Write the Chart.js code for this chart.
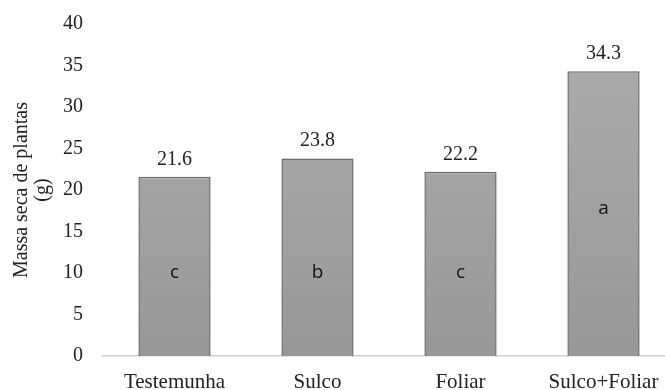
<!DOCTYPE html>
<html><head><meta charset="utf-8">
<script src="https://cdn.jsdelivr.net/npm/chart.js@4"></script>
<style>html,body{margin:0;padding:0;background:#fff;overflow:hidden;width:665px;height:390px}</style>
</head><body>
<canvas id="c" width="675" height="390" style="width:675px;height:390px"></canvas>
<script>
const categories = ["Testemunha", "Sulco", "Foliar", "Sulco+Foliar"];
const values = [21.6, 23.8, 22.2, 34.3];
const letters = ["c", "b", "c", "a"];
const letterLevel = [10, 10, 10, 17.7];
const yTicks = [0, 5, 10, 15, 20, 25, 30, 35, 40];

const labelPlugin = {
  id: "labels",
  afterDatasetsDraw(chart) {
    const ctx = chart.ctx;
    const meta = chart.getDatasetMeta(0);
    const y = chart.scales.y;
    ctx.save();
    ctx.textAlign = "center";
    meta.data.forEach((bar, i) => {
      ctx.fillStyle = "#222";
      ctx.font = "20px 'Liberation Serif'";
      ctx.textBaseline = "alphabetic";
      ctx.fillText(values[i].toFixed(1), bar.x, bar.y - 12);
      ctx.font = "19px 'Open Sans'";
      ctx.textBaseline = "middle";
      ctx.fillStyle = "#111";
      ctx.fillText(letters[i], bar.x, y.getPixelForValue(letterLevel[i]));
    });
    ctx.restore();
  }
};

new Chart(document.getElementById("c"), {
  type: "bar",
  data: {
    labels: categories,
    datasets: [{
      data: values,
      backgroundColor: (c) => {
        const a = c.chart.chartArea;
        if (!a) return "#a0a0a0";
        const g = c.chart.ctx.createLinearGradient(0, a.top, 0, a.bottom);
        g.addColorStop(0, "#adadad");
        g.addColorStop(1, "#989898");
        return g;
      },
      borderColor: "#6a6a6a",
      borderWidth: 1.5,
      barPercentage: 1,
      categoryPercentage: 0.505
    }]
  },
  options: {
    responsive: false,
    animation: false,
    layout: { padding: { top: 0, right: 0, bottom: 0, left: 11 } },
    plugins: { legend: { display: false }, tooltip: { enabled: false } },
    scales: {
      x: {
        grid: { display: false, drawTicks: false },
        border: { color: "#d0d0d0", width: 1.5 },
        ticks: { color: "#222", font: { family: "'Liberation Serif'", size: 21 }, padding: 14 },
        afterFit(s) { s.height = 34; }
      },
      y: {
        min: 0, max: 40,
        afterBuildTicks(s) { s.ticks = yTicks.map(v => ({ value: v })); },
        grid: { display: false, drawTicks: false },
        border: { display: false },
        ticks: { color: "#222", font: { family: "'Liberation Serif'", size: 20 }, padding: 20 },
        title: {
          display: true,
          text: ["Massa seca de plantas", "(g)"],
          color: "#222",
          font: { family: "'Liberation Serif'", size: 20, lineHeight: 1.05 },
          padding: { top: 0, bottom: 0 }
        },
        afterFit(s) { s.width = 92; s.paddingTop = 24; s.paddingBottom = 12; }
      }
    }
  },
  plugins: [labelPlugin]
});
</script>
</body></html>
